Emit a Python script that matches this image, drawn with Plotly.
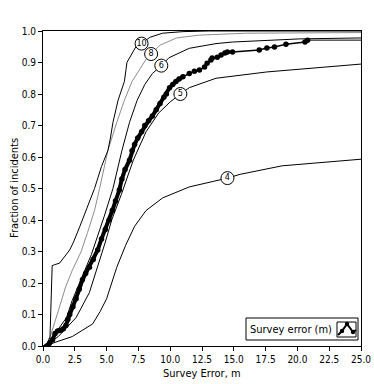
import plotly.graph_objects as go

# curves (x = survey error in m, y = fraction)
c10_x = [0, 0.3, 0.55, 0.65, 0.72, 0.9, 1.3, 2.1, 2.4, 2.9, 3.6, 4.05, 4.6, 5.1, 5.3, 5.5, 5.9, 6.2, 6.4, 6.6, 6.9, 7.3, 7.75, 8.4, 9.4, 11.0, 13.0, 25]
c10_y = [0, 0.005, 0.03, 0.15, 0.255, 0.258, 0.263, 0.305, 0.33, 0.38, 0.45, 0.50, 0.57, 0.62, 0.66, 0.71, 0.78, 0.82, 0.84, 0.90, 0.92, 0.95, 0.96, 0.98, 0.993, 0.998, 1.0, 1.0]

c8_x = [0, 0.3, 0.5, 1.06, 1.3, 1.8, 2.3, 3.0, 3.5, 4.05, 4.45, 5.1, 5.8, 6.4, 7.0, 7.6, 8.1, 8.5, 9.2, 10.5, 12.3, 16, 25]
c8_y = [0, 0.005, 0.02, 0.09, 0.125, 0.19, 0.24, 0.30, 0.36, 0.43, 0.50, 0.62, 0.71, 0.78, 0.84, 0.88, 0.91, 0.927, 0.955, 0.978, 0.987, 0.993, 0.995]

c6_x = [0, 0.3, 0.6, 1.3, 1.85, 2.3, 3.0, 3.8, 4.8, 5.5, 6.2, 6.8, 7.4, 8.0, 8.6, 9.3, 9.9, 11.5, 13.6, 14.9, 20.2, 25]
c6_y = [0, 0.003, 0.02, 0.06, 0.09, 0.145, 0.21, 0.29, 0.41, 0.50, 0.62, 0.71, 0.78, 0.83, 0.865, 0.89, 0.915, 0.945, 0.96, 0.965, 0.975, 0.978]

c5_x = [0, 0.5, 1.2, 2.6, 3.65, 4.3, 4.9, 5.4, 6.15, 7.1, 8.1, 9.1, 10.0, 10.8, 11.5, 13.6, 17.6, 25]
c5_y = [0, 0.01, 0.03, 0.09, 0.17, 0.25, 0.33, 0.40, 0.48, 0.59, 0.68, 0.74, 0.775, 0.80, 0.82, 0.85, 0.87, 0.895]

c4_x = [0, 0.5, 1.2, 2.3, 3.9, 4.5, 5.0, 5.8, 6.5, 7.2, 8.1, 9.4, 11.5, 13.4, 14.5, 15.5, 18.8, 25]
c4_y = [0, 0.005, 0.015, 0.03, 0.07, 0.11, 0.15, 0.25, 0.32, 0.38, 0.43, 0.47, 0.505, 0.522, 0.533, 0.545, 0.572, 0.593]

survey_x = [0.3, 0.5, 0.75, 0.95, 1.15, 1.4, 1.6, 1.8, 1.95, 2.1, 2.35, 2.6, 2.85, 3.1, 3.35, 3.65, 3.95, 4.3, 4.6, 4.9,
            5.2, 5.45, 5.7, 6.0, 6.2, 6.45, 6.8, 7.0, 7.2, 7.45, 7.75, 8.0, 8.3, 8.6, 8.9, 9.2, 9.5, 9.7, 9.95, 10.2,
            10.45, 10.7, 11.0, 11.5, 11.9, 12.3, 12.7, 12.9, 13.2, 13.3, 13.7, 14.0, 14.3, 14.5, 14.9,
            17.0, 17.6, 18.2, 19.1, 20.6, 20.8]
survey_y = [0.0, 0.008, 0.02, 0.04, 0.048, 0.05, 0.055, 0.065, 0.085, 0.10, 0.125, 0.15, 0.18, 0.21, 0.23, 0.25, 0.275, 0.305, 0.34, 0.37,
            0.40, 0.43, 0.46, 0.495, 0.53, 0.56, 0.59, 0.62, 0.64, 0.66, 0.68, 0.70, 0.715, 0.73, 0.75, 0.77, 0.79, 0.80, 0.82, 0.83,
            0.84, 0.848, 0.855, 0.865, 0.872, 0.876, 0.886, 0.898, 0.908, 0.914, 0.917, 0.924, 0.93, 0.933, 0.933,
            0.94, 0.946, 0.949, 0.958, 0.965, 0.971]
n_dense = 43  # points where the markers pile up into a solid band
tail_x = [20.8, 25]
tail_y = [0.971, 0.971]

label_text = ['10', '8', '6', '5', '4']
label_x = [7.75, 8.5, 9.3, 10.8, 14.5]
label_y = [0.96, 0.927, 0.89, 0.80, 0.533]

FONT = 'Liberation Sans Narrow, DejaVu Sans Condensed, Liberation Sans, sans-serif'

fig = go.Figure()
thin = dict(color='black', width=1)
fig.add_trace(go.Scatter(x=c4_x, y=c4_y, mode='lines', line=thin))
fig.add_trace(go.Scatter(x=c5_x, y=c5_y, mode='lines', line=thin))
fig.add_trace(go.Scatter(x=c6_x, y=c6_y, mode='lines', line=thin))
fig.add_trace(go.Scatter(x=c8_x, y=c8_y, mode='lines', line=dict(color='#8c8c8c', width=1)))
fig.add_trace(go.Scatter(x=c10_x, y=c10_y, mode='lines', line=thin))
fig.add_trace(go.Scatter(x=tail_x, y=tail_y, mode='lines', line=thin))
fig.add_trace(go.Scatter(x=survey_x[:n_dense], y=survey_y[:n_dense], mode='lines',
                         line=dict(color='black', width=4)))
fig.add_trace(go.Scatter(x=survey_x, y=survey_y, mode='lines+markers',
                         line=dict(color='black', width=1.5),
                         marker=dict(color='black', size=5.5)))
fig.add_trace(go.Scatter(x=label_x, y=label_y, mode='markers+text', text=label_text,
                         textposition='middle center',
                         textfont=dict(family=FONT, size=9, color='black'),
                         marker=dict(size=13, color='white', line=dict(color='black', width=1))))

# legend box drawn by hand (text left, icon right)
def px2p(px, py):
    return (px - 43) / 318, (346 - py) / 315

shapes = []
bx0, by0 = px2p(246, 340)
bx1, by1 = px2p(358, 318)
shapes.append(dict(type='rect', xref='paper', yref='paper', x0=bx0, y0=by0, x1=bx1, y1=by1,
                   line=dict(color='black', width=1), fillcolor='white', layer='below'))
ix0, iy0 = px2p(337, 337)
ix1, iy1 = px2p(356, 322)
shapes.append(dict(type='rect', xref='paper', yref='paper', x0=ix0, y0=iy0, x1=ix1, y1=iy1,
                   line=dict(color='black', width=1)))
pts = [px2p(338, 335), px2p(342, 331), px2p(347, 324), px2p(353, 332), px2p(356, 330)]
path = 'M ' + ' L '.join('%f,%f' % p for p in pts)
shapes.append(dict(type='path', xref='paper', yref='paper', path=path, line=dict(color='black', width=2)))
for (qx, qy) in [(342, 331), (347, 324), (353, 332)]:
    cx, cy = px2p(qx, qy)
    shapes.append(dict(type='circle', xref='paper', yref='paper', x0=cx - 2.2 / 318, x1=cx + 2.2 / 318,
                       y0=cy - 2.2 / 315, y1=cy + 2.2 / 315, fillcolor='black', line=dict(color='black', width=0)))
tx, ty = px2p(291, 329)
xtx, xty = px2p(202, 373)
ytx, yty = px2p(14, 188)

ann = dict(xref='paper', yref='paper', showarrow=False, xanchor='center', yanchor='middle',
           font=dict(family=FONT, size=11, color='black'))

fig.update_layout(
    width=374, height=384,
    margin=dict(l=43, r=13, t=31, b=38),
    paper_bgcolor='white', plot_bgcolor='white',
    showlegend=False,
    font=dict(family=FONT, size=10, color='black'),
    shapes=shapes,
    annotations=[
        dict(ann, x=tx, y=ty, text='Survey error (m)'),
        dict(ann, x=xtx, y=xty, text='Survey Error, m'),
        dict(ann, x=ytx, y=yty, text='Fraction of incidents', textangle=-90),
    ],
    xaxis=dict(range=[0, 25], tickvals=[0, 2.5, 5, 7.5, 10, 12.5, 15, 17.5, 20, 22.5, 25],
               tickformat='.1f', ticks='outside', ticklen=4, tickcolor='black',
               showline=True, linecolor='black', linewidth=1, mirror=True,
               showgrid=False, zeroline=False, automargin=False),
    yaxis=dict(range=[0, 1.0], dtick=0.1, tickformat='.1f', ticks='outside', ticklen=4, tickcolor='black',
               showline=True, linecolor='black', linewidth=1, mirror=True,
               showgrid=False, zeroline=False, automargin=False),
)

fig.write_html("out.html", config={'displayModeBar': False},
               post_script="document.body.style.margin='0';")
